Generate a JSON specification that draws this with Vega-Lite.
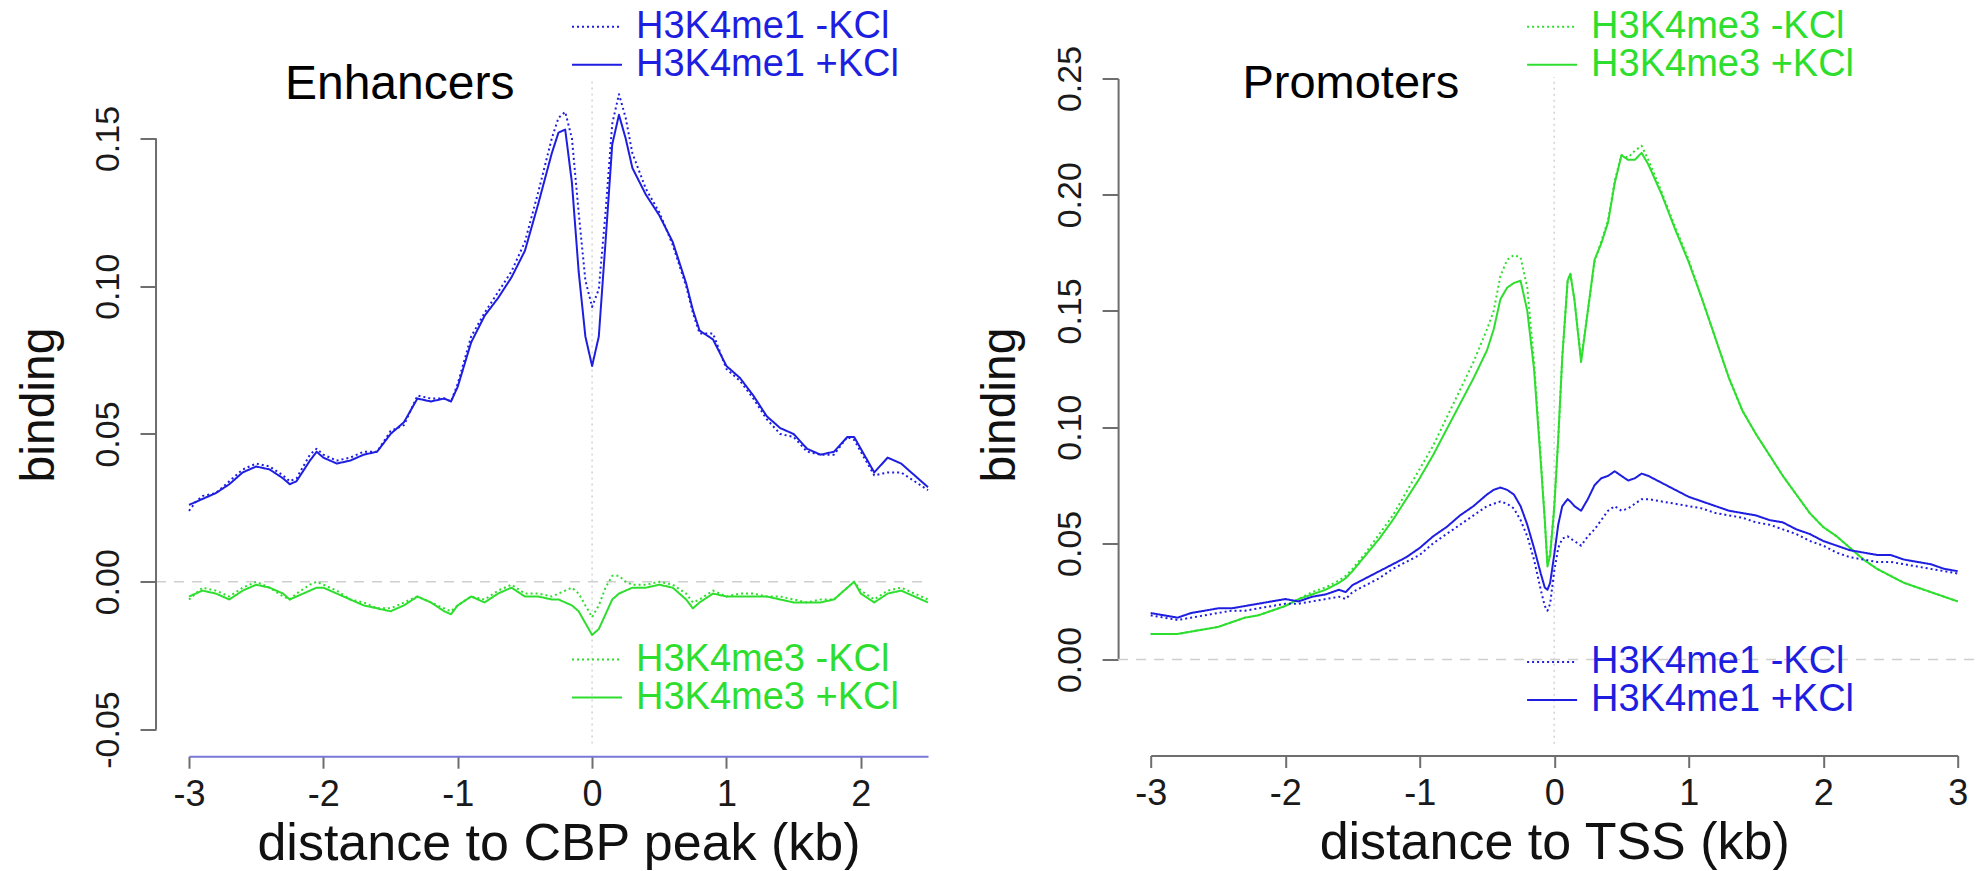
{
  "$schema": "https://vega.github.io/schema/vega-lite/v6.json",
  "background": "white",
  "padding": {"left": 15, "top": 8.5, "right": 0, "bottom": 0},
  "spacing": 46.7,
  "config": {
    "view": {"stroke": null},
    "font": "Liberation Sans",
    "axis": {
      "grid": false,
      "labelFont": "Liberation Sans",
      "labelFontSize": 34,
      "labelColor": "#1a1a1a",
      "titleFont": "Liberation Sans",
      "titleFontSize": 48,
      "titleFontWeight": "normal",
      "titleColor": "#111111",
      "domainColor": "#6e6e6e",
      "domainWidth": 2,
      "tickColor": "#6e6e6e",
      "tickWidth": 2,
      "labelFlush": false,
      "labelOverlap": false
    },
    "axisX": {"labelFontSize": 36, "titleFontSize": 52},
    "legend": {
      "orient": "none",
      "title": null,
      "symbolType": "stroke",
      "symbolSize": 2500,
      "symbolStrokeWidth": 2,
      "labelFont": "Liberation Sans",
      "labelFontSize": 38,
      "labelOffset": 13,
      "labelLimit": 0,
      "rowPadding": 0,
      "clipHeight": 36,
      "padding": 0
    }
  },
  "datasets": {
    "enh": [
      {"x": -3.0, "H3K4me1 -KCl": 0.024, "H3K4me1 +KCl": 0.026, "H3K4me3 -KCl": -0.006, "H3K4me3 +KCl": -0.005},
      {"x": -2.95, "H3K4me1 -KCl": 0.027, "H3K4me1 +KCl": 0.027, "H3K4me3 -KCl": -0.004, "H3K4me3 +KCl": -0.004},
      {"x": -2.9, "H3K4me1 -KCl": 0.029, "H3K4me1 +KCl": 0.028, "H3K4me3 -KCl": -0.002, "H3K4me3 +KCl": -0.003},
      {"x": -2.8, "H3K4me1 -KCl": 0.030, "H3K4me1 +KCl": 0.030, "H3K4me3 -KCl": -0.003, "H3K4me3 +KCl": -0.004},
      {"x": -2.7, "H3K4me1 -KCl": 0.034, "H3K4me1 +KCl": 0.033, "H3K4me3 -KCl": -0.005, "H3K4me3 +KCl": -0.006},
      {"x": -2.6, "H3K4me1 -KCl": 0.038, "H3K4me1 +KCl": 0.037, "H3K4me3 -KCl": -0.002, "H3K4me3 +KCl": -0.003},
      {"x": -2.5, "H3K4me1 -KCl": 0.040, "H3K4me1 +KCl": 0.039, "H3K4me3 -KCl": 0.000, "H3K4me3 +KCl": -0.001},
      {"x": -2.4, "H3K4me1 -KCl": 0.039, "H3K4me1 +KCl": 0.038, "H3K4me3 -KCl": -0.002, "H3K4me3 +KCl": -0.002},
      {"x": -2.3, "H3K4me1 -KCl": 0.036, "H3K4me1 +KCl": 0.035, "H3K4me3 -KCl": -0.005, "H3K4me3 +KCl": -0.004},
      {"x": -2.25, "H3K4me1 -KCl": 0.034, "H3K4me1 +KCl": 0.033, "H3K4me3 -KCl": -0.006, "H3K4me3 +KCl": -0.006},
      {"x": -2.2, "H3K4me1 -KCl": 0.035, "H3K4me1 +KCl": 0.034, "H3K4me3 -KCl": -0.004, "H3K4me3 +KCl": -0.005},
      {"x": -2.1, "H3K4me1 -KCl": 0.043, "H3K4me1 +KCl": 0.041, "H3K4me3 -KCl": -0.001, "H3K4me3 +KCl": -0.003},
      {"x": -2.05, "H3K4me1 -KCl": 0.045, "H3K4me1 +KCl": 0.044, "H3K4me3 -KCl": 0.000, "H3K4me3 +KCl": -0.002},
      {"x": -2.0, "H3K4me1 -KCl": 0.043, "H3K4me1 +KCl": 0.042, "H3K4me3 -KCl": -0.001, "H3K4me3 +KCl": -0.002},
      {"x": -1.9, "H3K4me1 -KCl": 0.041, "H3K4me1 +KCl": 0.040, "H3K4me3 -KCl": -0.003, "H3K4me3 +KCl": -0.004},
      {"x": -1.8, "H3K4me1 -KCl": 0.042, "H3K4me1 +KCl": 0.041, "H3K4me3 -KCl": -0.006, "H3K4me3 +KCl": -0.006},
      {"x": -1.7, "H3K4me1 -KCl": 0.044, "H3K4me1 +KCl": 0.043, "H3K4me3 -KCl": -0.007, "H3K4me3 +KCl": -0.008},
      {"x": -1.6, "H3K4me1 -KCl": 0.044, "H3K4me1 +KCl": 0.044, "H3K4me3 -KCl": -0.009, "H3K4me3 +KCl": -0.009},
      {"x": -1.5, "H3K4me1 -KCl": 0.051, "H3K4me1 +KCl": 0.050, "H3K4me3 -KCl": -0.009, "H3K4me3 +KCl": -0.010},
      {"x": -1.4, "H3K4me1 -KCl": 0.053, "H3K4me1 +KCl": 0.054, "H3K4me3 -KCl": -0.007, "H3K4me3 +KCl": -0.008},
      {"x": -1.3, "H3K4me1 -KCl": 0.063, "H3K4me1 +KCl": 0.062, "H3K4me3 -KCl": -0.005, "H3K4me3 +KCl": -0.005},
      {"x": -1.2, "H3K4me1 -KCl": 0.062, "H3K4me1 +KCl": 0.061, "H3K4me3 -KCl": -0.007, "H3K4me3 +KCl": -0.007},
      {"x": -1.1, "H3K4me1 -KCl": 0.062, "H3K4me1 +KCl": 0.062, "H3K4me3 -KCl": -0.009, "H3K4me3 +KCl": -0.010},
      {"x": -1.05, "H3K4me1 -KCl": 0.061, "H3K4me1 +KCl": 0.061, "H3K4me3 -KCl": -0.010, "H3K4me3 +KCl": -0.011},
      {"x": -1.0, "H3K4me1 -KCl": 0.067, "H3K4me1 +KCl": 0.066, "H3K4me3 -KCl": -0.008, "H3K4me3 +KCl": -0.008},
      {"x": -0.9, "H3K4me1 -KCl": 0.083, "H3K4me1 +KCl": 0.081, "H3K4me3 -KCl": -0.005, "H3K4me3 +KCl": -0.005},
      {"x": -0.8, "H3K4me1 -KCl": 0.091, "H3K4me1 +KCl": 0.090, "H3K4me3 -KCl": -0.006, "H3K4me3 +KCl": -0.007},
      {"x": -0.7, "H3K4me1 -KCl": 0.098, "H3K4me1 +KCl": 0.096, "H3K4me3 -KCl": -0.003, "H3K4me3 +KCl": -0.004},
      {"x": -0.6, "H3K4me1 -KCl": 0.105, "H3K4me1 +KCl": 0.103, "H3K4me3 -KCl": -0.001, "H3K4me3 +KCl": -0.002},
      {"x": -0.5, "H3K4me1 -KCl": 0.115, "H3K4me1 +KCl": 0.112, "H3K4me3 -KCl": -0.004, "H3K4me3 +KCl": -0.005},
      {"x": -0.4, "H3K4me1 -KCl": 0.132, "H3K4me1 +KCl": 0.128, "H3K4me3 -KCl": -0.004, "H3K4me3 +KCl": -0.005},
      {"x": -0.3, "H3K4me1 -KCl": 0.150, "H3K4me1 +KCl": 0.145, "H3K4me3 -KCl": -0.005, "H3K4me3 +KCl": -0.006},
      {"x": -0.25, "H3K4me1 -KCl": 0.157, "H3K4me1 +KCl": 0.152, "H3K4me3 -KCl": -0.004, "H3K4me3 +KCl": -0.006},
      {"x": -0.2, "H3K4me1 -KCl": 0.159, "H3K4me1 +KCl": 0.153, "H3K4me3 -KCl": -0.003, "H3K4me3 +KCl": -0.007},
      {"x": -0.15, "H3K4me1 -KCl": 0.150, "H3K4me1 +KCl": 0.135, "H3K4me3 -KCl": -0.002, "H3K4me3 +KCl": -0.008},
      {"x": -0.1, "H3K4me1 -KCl": 0.125, "H3K4me1 +KCl": 0.105, "H3K4me3 -KCl": -0.004, "H3K4me3 +KCl": -0.010},
      {"x": -0.05, "H3K4me1 -KCl": 0.102, "H3K4me1 +KCl": 0.083, "H3K4me3 -KCl": -0.008, "H3K4me3 +KCl": -0.014},
      {"x": 0.0, "H3K4me1 -KCl": 0.093, "H3K4me1 +KCl": 0.073, "H3K4me3 -KCl": -0.012, "H3K4me3 +KCl": -0.018},
      {"x": 0.05, "H3K4me1 -KCl": 0.099, "H3K4me1 +KCl": 0.083, "H3K4me3 -KCl": -0.008, "H3K4me3 +KCl": -0.016},
      {"x": 0.1, "H3K4me1 -KCl": 0.125, "H3K4me1 +KCl": 0.115, "H3K4me3 -KCl": -0.002, "H3K4me3 +KCl": -0.011},
      {"x": 0.15, "H3K4me1 -KCl": 0.155, "H3K4me1 +KCl": 0.148, "H3K4me3 -KCl": 0.002, "H3K4me3 +KCl": -0.006},
      {"x": 0.2, "H3K4me1 -KCl": 0.165, "H3K4me1 +KCl": 0.158, "H3K4me3 -KCl": 0.002, "H3K4me3 +KCl": -0.004},
      {"x": 0.25, "H3K4me1 -KCl": 0.157, "H3K4me1 +KCl": 0.150, "H3K4me3 -KCl": 0.000, "H3K4me3 +KCl": -0.003},
      {"x": 0.3, "H3K4me1 -KCl": 0.145, "H3K4me1 +KCl": 0.140, "H3K4me3 -KCl": -0.001, "H3K4me3 +KCl": -0.002},
      {"x": 0.4, "H3K4me1 -KCl": 0.133, "H3K4me1 +KCl": 0.131, "H3K4me3 -KCl": -0.001, "H3K4me3 +KCl": -0.002},
      {"x": 0.5, "H3K4me1 -KCl": 0.125, "H3K4me1 +KCl": 0.124, "H3K4me3 -KCl": 0.000, "H3K4me3 +KCl": -0.001},
      {"x": 0.6, "H3K4me1 -KCl": 0.114, "H3K4me1 +KCl": 0.115, "H3K4me3 -KCl": -0.001, "H3K4me3 +KCl": -0.002},
      {"x": 0.7, "H3K4me1 -KCl": 0.100, "H3K4me1 +KCl": 0.101, "H3K4me3 -KCl": -0.004, "H3K4me3 +KCl": -0.006},
      {"x": 0.75, "H3K4me1 -KCl": 0.091, "H3K4me1 +KCl": 0.092, "H3K4me3 -KCl": -0.007, "H3K4me3 +KCl": -0.009},
      {"x": 0.8, "H3K4me1 -KCl": 0.084, "H3K4me1 +KCl": 0.085, "H3K4me3 -KCl": -0.006, "H3K4me3 +KCl": -0.007},
      {"x": 0.9, "H3K4me1 -KCl": 0.084, "H3K4me1 +KCl": 0.082, "H3K4me3 -KCl": -0.003, "H3K4me3 +KCl": -0.004},
      {"x": 1.0, "H3K4me1 -KCl": 0.072, "H3K4me1 +KCl": 0.073, "H3K4me3 -KCl": -0.005, "H3K4me3 +KCl": -0.005},
      {"x": 1.1, "H3K4me1 -KCl": 0.068, "H3K4me1 +KCl": 0.069, "H3K4me3 -KCl": -0.004, "H3K4me3 +KCl": -0.005},
      {"x": 1.2, "H3K4me1 -KCl": 0.062, "H3K4me1 +KCl": 0.063, "H3K4me3 -KCl": -0.004, "H3K4me3 +KCl": -0.005},
      {"x": 1.3, "H3K4me1 -KCl": 0.055, "H3K4me1 +KCl": 0.056, "H3K4me3 -KCl": -0.005, "H3K4me3 +KCl": -0.005},
      {"x": 1.4, "H3K4me1 -KCl": 0.050, "H3K4me1 +KCl": 0.052, "H3K4me3 -KCl": -0.005, "H3K4me3 +KCl": -0.006},
      {"x": 1.5, "H3K4me1 -KCl": 0.049, "H3K4me1 +KCl": 0.050, "H3K4me3 -KCl": -0.006, "H3K4me3 +KCl": -0.007},
      {"x": 1.6, "H3K4me1 -KCl": 0.044, "H3K4me1 +KCl": 0.045, "H3K4me3 -KCl": -0.007, "H3K4me3 +KCl": -0.007},
      {"x": 1.7, "H3K4me1 -KCl": 0.043, "H3K4me1 +KCl": 0.043, "H3K4me3 -KCl": -0.006, "H3K4me3 +KCl": -0.007},
      {"x": 1.8, "H3K4me1 -KCl": 0.043, "H3K4me1 +KCl": 0.044, "H3K4me3 -KCl": -0.006, "H3K4me3 +KCl": -0.006},
      {"x": 1.9, "H3K4me1 -KCl": 0.049, "H3K4me1 +KCl": 0.049, "H3K4me3 -KCl": -0.002, "H3K4me3 +KCl": -0.002},
      {"x": 1.95, "H3K4me1 -KCl": 0.048, "H3K4me1 +KCl": 0.049, "H3K4me3 -KCl": 0.000, "H3K4me3 +KCl": 0.000},
      {"x": 2.0, "H3K4me1 -KCl": 0.044, "H3K4me1 +KCl": 0.045, "H3K4me3 -KCl": -0.003, "H3K4me3 +KCl": -0.004},
      {"x": 2.1, "H3K4me1 -KCl": 0.036, "H3K4me1 +KCl": 0.037, "H3K4me3 -KCl": -0.006, "H3K4me3 +KCl": -0.007},
      {"x": 2.2, "H3K4me1 -KCl": 0.037, "H3K4me1 +KCl": 0.042, "H3K4me3 -KCl": -0.003, "H3K4me3 +KCl": -0.004},
      {"x": 2.3, "H3K4me1 -KCl": 0.037, "H3K4me1 +KCl": 0.040, "H3K4me3 -KCl": -0.002, "H3K4me3 +KCl": -0.003},
      {"x": 2.4, "H3K4me1 -KCl": 0.034, "H3K4me1 +KCl": 0.036, "H3K4me3 -KCl": -0.004, "H3K4me3 +KCl": -0.005},
      {"x": 2.5, "H3K4me1 -KCl": 0.031, "H3K4me1 +KCl": 0.032, "H3K4me3 -KCl": -0.006, "H3K4me3 +KCl": -0.007}
    ],
    "pro": [
      {"x": -3.0, "H3K4me1 -KCl": 0.019, "H3K4me1 +KCl": 0.020, "H3K4me3 -KCl": 0.011, "H3K4me3 +KCl": 0.011},
      {"x": -2.9, "H3K4me1 -KCl": 0.018, "H3K4me1 +KCl": 0.019, "H3K4me3 -KCl": 0.011, "H3K4me3 +KCl": 0.011},
      {"x": -2.8, "H3K4me1 -KCl": 0.017, "H3K4me1 +KCl": 0.018, "H3K4me3 -KCl": 0.011, "H3K4me3 +KCl": 0.011},
      {"x": -2.7, "H3K4me1 -KCl": 0.018, "H3K4me1 +KCl": 0.020, "H3K4me3 -KCl": 0.012, "H3K4me3 +KCl": 0.012},
      {"x": -2.6, "H3K4me1 -KCl": 0.019, "H3K4me1 +KCl": 0.021, "H3K4me3 -KCl": 0.013, "H3K4me3 +KCl": 0.013},
      {"x": -2.5, "H3K4me1 -KCl": 0.020, "H3K4me1 +KCl": 0.022, "H3K4me3 -KCl": 0.014, "H3K4me3 +KCl": 0.014},
      {"x": -2.4, "H3K4me1 -KCl": 0.021, "H3K4me1 +KCl": 0.022, "H3K4me3 -KCl": 0.016, "H3K4me3 +KCl": 0.016},
      {"x": -2.3, "H3K4me1 -KCl": 0.021, "H3K4me1 +KCl": 0.023, "H3K4me3 -KCl": 0.018, "H3K4me3 +KCl": 0.018},
      {"x": -2.2, "H3K4me1 -KCl": 0.022, "H3K4me1 +KCl": 0.024, "H3K4me3 -KCl": 0.019, "H3K4me3 +KCl": 0.019},
      {"x": -2.1, "H3K4me1 -KCl": 0.023, "H3K4me1 +KCl": 0.025, "H3K4me3 -KCl": 0.021, "H3K4me3 +KCl": 0.021},
      {"x": -2.0, "H3K4me1 -KCl": 0.024, "H3K4me1 +KCl": 0.026, "H3K4me3 -KCl": 0.023, "H3K4me3 +KCl": 0.023},
      {"x": -1.9, "H3K4me1 -KCl": 0.024, "H3K4me1 +KCl": 0.025, "H3K4me3 -KCl": 0.026, "H3K4me3 +KCl": 0.026},
      {"x": -1.8, "H3K4me1 -KCl": 0.025, "H3K4me1 +KCl": 0.027, "H3K4me3 -KCl": 0.029, "H3K4me3 +KCl": 0.028},
      {"x": -1.7, "H3K4me1 -KCl": 0.026, "H3K4me1 +KCl": 0.028, "H3K4me3 -KCl": 0.031, "H3K4me3 +KCl": 0.030},
      {"x": -1.6, "H3K4me1 -KCl": 0.027, "H3K4me1 +KCl": 0.030, "H3K4me3 -KCl": 0.034, "H3K4me3 +KCl": 0.033},
      {"x": -1.55, "H3K4me1 -KCl": 0.026, "H3K4me1 +KCl": 0.029, "H3K4me3 -KCl": 0.036, "H3K4me3 +KCl": 0.035},
      {"x": -1.5, "H3K4me1 -KCl": 0.029, "H3K4me1 +KCl": 0.032, "H3K4me3 -KCl": 0.039, "H3K4me3 +KCl": 0.038},
      {"x": -1.4, "H3K4me1 -KCl": 0.032, "H3K4me1 +KCl": 0.035, "H3K4me3 -KCl": 0.046, "H3K4me3 +KCl": 0.045},
      {"x": -1.3, "H3K4me1 -KCl": 0.035, "H3K4me1 +KCl": 0.038, "H3K4me3 -KCl": 0.054, "H3K4me3 +KCl": 0.052},
      {"x": -1.2, "H3K4me1 -KCl": 0.039, "H3K4me1 +KCl": 0.041, "H3K4me3 -KCl": 0.062, "H3K4me3 +KCl": 0.060},
      {"x": -1.1, "H3K4me1 -KCl": 0.042, "H3K4me1 +KCl": 0.044, "H3K4me3 -KCl": 0.072, "H3K4me3 +KCl": 0.069},
      {"x": -1.0, "H3K4me1 -KCl": 0.045, "H3K4me1 +KCl": 0.048, "H3K4me3 -KCl": 0.082, "H3K4me3 +KCl": 0.078},
      {"x": -0.9, "H3K4me1 -KCl": 0.050, "H3K4me1 +KCl": 0.053, "H3K4me3 -KCl": 0.092, "H3K4me3 +KCl": 0.088},
      {"x": -0.8, "H3K4me1 -KCl": 0.054, "H3K4me1 +KCl": 0.057, "H3K4me3 -KCl": 0.104, "H3K4me3 +KCl": 0.099},
      {"x": -0.7, "H3K4me1 -KCl": 0.058, "H3K4me1 +KCl": 0.062, "H3K4me3 -KCl": 0.116, "H3K4me3 +KCl": 0.110},
      {"x": -0.6, "H3K4me1 -KCl": 0.062, "H3K4me1 +KCl": 0.066, "H3K4me3 -KCl": 0.128, "H3K4me3 +KCl": 0.121},
      {"x": -0.5, "H3K4me1 -KCl": 0.066, "H3K4me1 +KCl": 0.071, "H3K4me3 -KCl": 0.142, "H3K4me3 +KCl": 0.133},
      {"x": -0.45, "H3K4me1 -KCl": 0.067, "H3K4me1 +KCl": 0.073, "H3K4me3 -KCl": 0.150, "H3K4me3 +KCl": 0.142},
      {"x": -0.4, "H3K4me1 -KCl": 0.068, "H3K4me1 +KCl": 0.074, "H3K4me3 -KCl": 0.165, "H3K4me3 +KCl": 0.155},
      {"x": -0.35, "H3K4me1 -KCl": 0.067, "H3K4me1 +KCl": 0.073, "H3K4me3 -KCl": 0.172, "H3K4me3 +KCl": 0.160},
      {"x": -0.3, "H3K4me1 -KCl": 0.065, "H3K4me1 +KCl": 0.071, "H3K4me3 -KCl": 0.174, "H3K4me3 +KCl": 0.162},
      {"x": -0.25, "H3K4me1 -KCl": 0.060, "H3K4me1 +KCl": 0.066, "H3K4me3 -KCl": 0.173, "H3K4me3 +KCl": 0.163},
      {"x": -0.2, "H3K4me1 -KCl": 0.053, "H3K4me1 +KCl": 0.058, "H3K4me3 -KCl": 0.160, "H3K4me3 +KCl": 0.150},
      {"x": -0.15, "H3K4me1 -KCl": 0.043, "H3K4me1 +KCl": 0.048, "H3K4me3 -KCl": 0.128, "H3K4me3 +KCl": 0.125},
      {"x": -0.1, "H3K4me1 -KCl": 0.030, "H3K4me1 +KCl": 0.037, "H3K4me3 -KCl": 0.087, "H3K4me3 +KCl": 0.085},
      {"x": -0.07, "H3K4me1 -KCl": 0.023, "H3K4me1 +KCl": 0.031, "H3K4me3 -KCl": 0.060, "H3K4me3 +KCl": 0.060},
      {"x": -0.05, "H3K4me1 -KCl": 0.021, "H3K4me1 +KCl": 0.030, "H3K4me3 -KCl": 0.041, "H3K4me3 +KCl": 0.040},
      {"x": -0.03, "H3K4me1 -KCl": 0.024, "H3K4me1 +KCl": 0.033, "H3K4me3 -KCl": 0.046, "H3K4me3 +KCl": 0.045},
      {"x": 0.0, "H3K4me1 -KCl": 0.038, "H3K4me1 +KCl": 0.045, "H3K4me3 -KCl": 0.066, "H3K4me3 +KCl": 0.065},
      {"x": 0.03, "H3K4me1 -KCl": 0.048, "H3K4me1 +KCl": 0.058, "H3K4me3 -KCl": 0.095, "H3K4me3 +KCl": 0.095},
      {"x": 0.06, "H3K4me1 -KCl": 0.052, "H3K4me1 +KCl": 0.066, "H3K4me3 -KCl": 0.130, "H3K4me3 +KCl": 0.130},
      {"x": 0.1, "H3K4me1 -KCl": 0.053, "H3K4me1 +KCl": 0.069, "H3K4me3 -KCl": 0.163, "H3K4me3 +KCl": 0.163},
      {"x": 0.12, "H3K4me1 -KCl": 0.052, "H3K4me1 +KCl": 0.068, "H3K4me3 -KCl": 0.166, "H3K4me3 +KCl": 0.166},
      {"x": 0.15, "H3K4me1 -KCl": 0.051, "H3K4me1 +KCl": 0.066, "H3K4me3 -KCl": 0.155, "H3K4me3 +KCl": 0.155},
      {"x": 0.2, "H3K4me1 -KCl": 0.049, "H3K4me1 +KCl": 0.064, "H3K4me3 -KCl": 0.129, "H3K4me3 +KCl": 0.128},
      {"x": 0.25, "H3K4me1 -KCl": 0.053, "H3K4me1 +KCl": 0.069, "H3K4me3 -KCl": 0.150, "H3K4me3 +KCl": 0.150},
      {"x": 0.3, "H3K4me1 -KCl": 0.056, "H3K4me1 +KCl": 0.075, "H3K4me3 -KCl": 0.171, "H3K4me3 +KCl": 0.172},
      {"x": 0.35, "H3K4me1 -KCl": 0.060, "H3K4me1 +KCl": 0.078, "H3K4me3 -KCl": 0.180, "H3K4me3 +KCl": 0.179},
      {"x": 0.4, "H3K4me1 -KCl": 0.064, "H3K4me1 +KCl": 0.079, "H3K4me3 -KCl": 0.189, "H3K4me3 +KCl": 0.188},
      {"x": 0.45, "H3K4me1 -KCl": 0.066, "H3K4me1 +KCl": 0.081, "H3K4me3 -KCl": 0.206, "H3K4me3 +KCl": 0.205},
      {"x": 0.5, "H3K4me1 -KCl": 0.064, "H3K4me1 +KCl": 0.079, "H3K4me3 -KCl": 0.217, "H3K4me3 +KCl": 0.217},
      {"x": 0.55, "H3K4me1 -KCl": 0.065, "H3K4me1 +KCl": 0.077, "H3K4me3 -KCl": 0.216, "H3K4me3 +KCl": 0.215},
      {"x": 0.6, "H3K4me1 -KCl": 0.067, "H3K4me1 +KCl": 0.078, "H3K4me3 -KCl": 0.219, "H3K4me3 +KCl": 0.215},
      {"x": 0.65, "H3K4me1 -KCl": 0.069, "H3K4me1 +KCl": 0.080, "H3K4me3 -KCl": 0.221, "H3K4me3 +KCl": 0.218},
      {"x": 0.7, "H3K4me1 -KCl": 0.069, "H3K4me1 +KCl": 0.079, "H3K4me3 -KCl": 0.215, "H3K4me3 +KCl": 0.213},
      {"x": 0.8, "H3K4me1 -KCl": 0.068, "H3K4me1 +KCl": 0.076, "H3K4me3 -KCl": 0.201, "H3K4me3 +KCl": 0.200},
      {"x": 0.9, "H3K4me1 -KCl": 0.067, "H3K4me1 +KCl": 0.073, "H3K4me3 -KCl": 0.186, "H3K4me3 +KCl": 0.185},
      {"x": 1.0, "H3K4me1 -KCl": 0.066, "H3K4me1 +KCl": 0.070, "H3K4me3 -KCl": 0.172, "H3K4me3 +KCl": 0.171},
      {"x": 1.1, "H3K4me1 -KCl": 0.065, "H3K4me1 +KCl": 0.068, "H3K4me3 -KCl": 0.155, "H3K4me3 +KCl": 0.155},
      {"x": 1.2, "H3K4me1 -KCl": 0.063, "H3K4me1 +KCl": 0.066, "H3K4me3 -KCl": 0.138, "H3K4me3 +KCl": 0.138},
      {"x": 1.3, "H3K4me1 -KCl": 0.062, "H3K4me1 +KCl": 0.064, "H3K4me3 -KCl": 0.121, "H3K4me3 +KCl": 0.121},
      {"x": 1.4, "H3K4me1 -KCl": 0.061, "H3K4me1 +KCl": 0.063, "H3K4me3 -KCl": 0.107, "H3K4me3 +KCl": 0.107},
      {"x": 1.5, "H3K4me1 -KCl": 0.059, "H3K4me1 +KCl": 0.062, "H3K4me3 -KCl": 0.097, "H3K4me3 +KCl": 0.097},
      {"x": 1.6, "H3K4me1 -KCl": 0.058, "H3K4me1 +KCl": 0.060, "H3K4me3 -KCl": 0.088, "H3K4me3 +KCl": 0.088},
      {"x": 1.7, "H3K4me1 -KCl": 0.056, "H3K4me1 +KCl": 0.059, "H3K4me3 -KCl": 0.079, "H3K4me3 +KCl": 0.079},
      {"x": 1.8, "H3K4me1 -KCl": 0.054, "H3K4me1 +KCl": 0.056, "H3K4me3 -KCl": 0.071, "H3K4me3 +KCl": 0.071},
      {"x": 1.9, "H3K4me1 -KCl": 0.051, "H3K4me1 +KCl": 0.054, "H3K4me3 -KCl": 0.063, "H3K4me3 +KCl": 0.063},
      {"x": 2.0, "H3K4me1 -KCl": 0.049, "H3K4me1 +KCl": 0.051, "H3K4me3 -KCl": 0.057, "H3K4me3 +KCl": 0.057},
      {"x": 2.1, "H3K4me1 -KCl": 0.046, "H3K4me1 +KCl": 0.049, "H3K4me3 -KCl": 0.053, "H3K4me3 +KCl": 0.053},
      {"x": 2.2, "H3K4me1 -KCl": 0.044, "H3K4me1 +KCl": 0.047, "H3K4me3 -KCl": 0.048, "H3K4me3 +KCl": 0.048},
      {"x": 2.3, "H3K4me1 -KCl": 0.043, "H3K4me1 +KCl": 0.046, "H3K4me3 -KCl": 0.043, "H3K4me3 +KCl": 0.043},
      {"x": 2.4, "H3K4me1 -KCl": 0.042, "H3K4me1 +KCl": 0.045, "H3K4me3 -KCl": 0.039, "H3K4me3 +KCl": 0.039},
      {"x": 2.5, "H3K4me1 -KCl": 0.042, "H3K4me1 +KCl": 0.045, "H3K4me3 -KCl": 0.036, "H3K4me3 +KCl": 0.036},
      {"x": 2.6, "H3K4me1 -KCl": 0.041, "H3K4me1 +KCl": 0.043, "H3K4me3 -KCl": 0.033, "H3K4me3 +KCl": 0.033},
      {"x": 2.7, "H3K4me1 -KCl": 0.040, "H3K4me1 +KCl": 0.042, "H3K4me3 -KCl": 0.031, "H3K4me3 +KCl": 0.031},
      {"x": 2.8, "H3K4me1 -KCl": 0.039, "H3K4me1 +KCl": 0.041, "H3K4me3 -KCl": 0.029, "H3K4me3 +KCl": 0.029},
      {"x": 2.9, "H3K4me1 -KCl": 0.038, "H3K4me1 +KCl": 0.039, "H3K4me3 -KCl": 0.027, "H3K4me3 +KCl": 0.027},
      {"x": 3.0, "H3K4me1 -KCl": 0.037, "H3K4me1 +KCl": 0.038, "H3K4me3 -KCl": 0.025, "H3K4me3 +KCl": 0.025}
    ]
  },
  "hconcat": [
    {
      "width": 739,
      "height": 651,
      "data": {"name": "enh"},
      "transform": [{"fold": ["H3K4me1 -KCl", "H3K4me1 +KCl", "H3K4me3 -KCl", "H3K4me3 +KCl"], "as": ["series", "binding"]}],
      "layer": [
        {
          "data": {"values": [{}]},
          "mark": {"type": "rule", "color": "#cfcfcf", "strokeWidth": 1.5, "strokeDash": [10, 8]},
          "encoding": {
            "y": {"datum": 0, "type": "quantitative"},
            "x": {"datum": -3.2455, "type": "quantitative"},
            "x2": {"datum": 2.5}
          }
        },
        {
          "data": {"values": [{}]},
          "mark": {"type": "rule", "color": "#d2d2d2", "strokeWidth": 1.5, "strokeDash": [2, 4]},
          "encoding": {
            "x": {"datum": 0, "type": "quantitative"},
            "y": {"datum": -0.0547, "type": "quantitative"},
            "y2": {"datum": 0.1706}
          }
        },
        {
          "data": {"values": [{}]},
          "mark": {"type": "rule", "color": "#6e6e6e", "strokeWidth": 2},
          "encoding": {
            "x": {"datum": -3.2455, "type": "quantitative"},
            "y": {"datum": -0.05, "type": "quantitative"},
            "y2": {"datum": 0.15}
          }
        },
        {
          "transform": [{"filter": {"field": "series", "oneOf": ["H3K4me1 -KCl", "H3K4me1 +KCl"]}}],
          "mark": {"type": "line", "strokeWidth": 2, "strokeJoin": "round"},
          "encoding": {
            "x": {
              "field": "x", "type": "quantitative",
              "scale": {"domain": [-3, 2.5], "nice": false, "zero": false},
              "axis": {
                "title": "distance to CBP peak (kb)",
                "values": [-3, -2, -1, 0, 1, 2],
                "labelExpr": "'' + datum.value",
                "offset": 26.7,
                "domainColor": "#7878d6",
                "tickSize": 12,
                "labelPadding": 37,
                "labelBaseline": "alphabetic",
                "titleBaseline": "alphabetic",
                "titlePadding": 0,
                "titleY": 103
              }
            },
            "y": {
              "field": "binding", "type": "quantitative",
              "scale": {"domain": [-0.05, 0.1703], "nice": false, "zero": false},
              "axis": {
                "title": "binding",
                "values": [-0.05, 0, 0.05, 0.1, 0.15],
                "labelExpr": "replace(format(datum.value, '.2f'), '−', '-')",
                "offset": 33,
                "domain": false,
                "tickSize": 16,
                "labelAngle": 270,
                "labelAlign": "center",
                "labelBaseline": "alphabetic",
                "labelPadding": 22,
                "titleAngle": 270,
                "titleAlign": "center",
                "titleBaseline": "alphabetic",
                "titleX": -103,
                "titleY": 326
              }
            },
            "stroke": {
              "field": "series", "type": "nominal",
              "scale": {"domain": ["H3K4me1 -KCl", "H3K4me1 +KCl"], "range": ["#1e1ee0", "#1e1ee0"]},
              "legend": {"legendX": 382, "legendY": -69.8, "labelColor": "#1e1ee0"}
            },
            "strokeDash": {
              "field": "series", "type": "nominal",
              "scale": {"domain": ["H3K4me1 -KCl", "H3K4me1 +KCl"], "range": [[2, 3], [1, 0]]},
              "legend": {"legendX": 382, "legendY": -69.8, "labelColor": "#1e1ee0"}
            }
          }
        },
        {
          "transform": [{"filter": {"field": "series", "oneOf": ["H3K4me3 -KCl", "H3K4me3 +KCl"]}}],
          "mark": {"type": "line", "strokeWidth": 2, "strokeJoin": "round"},
          "encoding": {
            "x": {"field": "x", "type": "quantitative"},
            "y": {"field": "binding", "type": "quantitative"},
            "stroke": {
              "field": "series", "type": "nominal",
              "scale": {"domain": ["H3K4me3 -KCl", "H3K4me3 +KCl"], "range": ["#2ede2e", "#2ede2e"]},
              "legend": {"legendX": 382, "legendY": 563, "labelColor": "#2ede2e"}
            },
            "strokeDash": {
              "field": "series", "type": "nominal",
              "scale": {"domain": ["H3K4me3 -KCl", "H3K4me3 +KCl"], "range": [[2, 3], [1, 0]]},
              "legend": {"legendX": 382, "legendY": 563, "labelColor": "#2ede2e"}
            }
          }
        },
        {
          "data": {"values": [{}]},
          "mark": {"type": "text", "text": "Enhancers", "font": "Liberation Sans", "fontSize": 48, "color": "#000000", "align": "left", "baseline": "alphabetic"},
          "encoding": {
            "x": {"datum": -2.286, "type": "quantitative"},
            "y": {"datum": 0.1635, "type": "quantitative"}
          }
        }
      ],
      "resolve": {
        "scale": {"stroke": "independent", "strokeDash": "independent"},
        "legend": {"stroke": "independent", "strokeDash": "independent"}
      }
    },
    {
      "width": 807,
      "height": 581,
      "data": {"name": "pro"},
      "transform": [{"fold": ["H3K4me1 -KCl", "H3K4me1 +KCl", "H3K4me3 -KCl", "H3K4me3 +KCl"], "as": ["series", "binding"]}],
      "layer": [
        {
          "data": {"values": [{}]},
          "mark": {"type": "rule", "color": "#cfcfcf", "strokeWidth": 1.5, "strokeDash": [10, 8]},
          "encoding": {
            "y": {"datum": 0, "type": "quantitative"},
            "x": {"datum": -3.2425, "type": "quantitative"},
            "x2": {"datum": 3.17}
          }
        },
        {
          "data": {"values": [{}]},
          "mark": {"type": "rule", "color": "#d2d2d2", "strokeWidth": 1.5, "strokeDash": [2, 4]},
          "encoding": {
            "x": {"datum": 0, "type": "quantitative"},
            "y": {"datum": -0.0362, "type": "quantitative"},
            "y2": {"datum": 0.2506}
          }
        },
        {
          "transform": [{"filter": {"field": "series", "oneOf": ["H3K4me3 -KCl", "H3K4me3 +KCl"]}}],
          "mark": {"type": "line", "strokeWidth": 2, "strokeJoin": "round"},
          "encoding": {
            "x": {
              "field": "x", "type": "quantitative",
              "scale": {"domain": [-3, 3], "nice": false, "zero": false},
              "axis": {
                "title": "distance to TSS (kb)",
                "values": [-3, -2, -1, 0, 1, 2, 3],
                "labelExpr": "'' + datum.value",
                "offset": 96,
                "tickSize": 12,
                "labelPadding": 37,
                "labelBaseline": "alphabetic",
                "titleBaseline": "alphabetic",
                "titlePadding": 0,
                "titleY": 103
              }
            },
            "y": {
              "field": "binding", "type": "quantitative",
              "scale": {"domain": [0, 0.25], "nice": false, "zero": false},
              "axis": {
                "title": "binding",
                "values": [0, 0.05, 0.1, 0.15, 0.2, 0.25],
                "labelExpr": "replace(format(datum.value, '.2f'), '−', '-')",
                "offset": 32.6,
                "tickSize": 16,
                "labelAngle": 270,
                "labelAlign": "center",
                "labelBaseline": "alphabetic",
                "labelPadding": 22,
                "titleAngle": 270,
                "titleAlign": "center",
                "titleBaseline": "alphabetic",
                "titleX": -104,
                "titleY": 326
              }
            },
            "stroke": {
              "field": "series", "type": "nominal",
              "scale": {"domain": ["H3K4me3 -KCl", "H3K4me3 +KCl"], "range": ["#2ede2e", "#2ede2e"]},
              "legend": {"legendX": 375.4, "legendY": -69.8, "labelColor": "#2ede2e"}
            },
            "strokeDash": {
              "field": "series", "type": "nominal",
              "scale": {"domain": ["H3K4me3 -KCl", "H3K4me3 +KCl"], "range": [[2, 3], [1, 0]]},
              "legend": {"legendX": 375.4, "legendY": -69.8, "labelColor": "#2ede2e"}
            }
          }
        },
        {
          "transform": [{"filter": {"field": "series", "oneOf": ["H3K4me1 -KCl", "H3K4me1 +KCl"]}}],
          "mark": {"type": "line", "strokeWidth": 2, "strokeJoin": "round"},
          "encoding": {
            "x": {"field": "x", "type": "quantitative"},
            "y": {"field": "binding", "type": "quantitative"},
            "stroke": {
              "field": "series", "type": "nominal",
              "scale": {"domain": ["H3K4me1 -KCl", "H3K4me1 +KCl"], "range": ["#1e1ee0", "#1e1ee0"]},
              "legend": {"legendX": 375.4, "legendY": 565.5, "labelColor": "#1e1ee0"}
            },
            "strokeDash": {
              "field": "series", "type": "nominal",
              "scale": {"domain": ["H3K4me1 -KCl", "H3K4me1 +KCl"], "range": [[2, 3], [1, 0]]},
              "legend": {"legendX": 375.4, "legendY": 565.5, "labelColor": "#1e1ee0"}
            }
          }
        },
        {
          "data": {"values": [{}]},
          "mark": {"type": "text", "text": "Promoters", "font": "Liberation Sans", "fontSize": 47, "color": "#000000", "align": "left", "baseline": "alphabetic"},
          "encoding": {
            "x": {"datum": -2.318, "type": "quantitative"},
            "y": {"datum": 0.2415, "type": "quantitative"}
          }
        }
      ],
      "resolve": {
        "scale": {"stroke": "independent", "strokeDash": "independent"},
        "legend": {"stroke": "independent", "strokeDash": "independent"}
      }
    }
  ]
}
